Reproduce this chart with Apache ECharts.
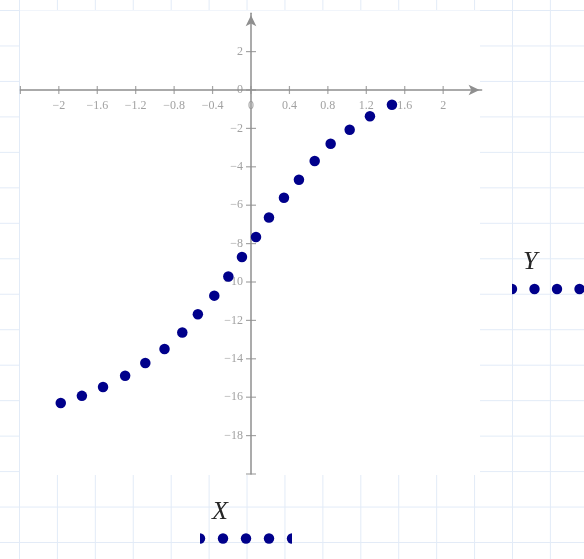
<!DOCTYPE html>
<html>
<head>
<meta charset="utf-8">
<script src="https://cdn.jsdelivr.net/npm/echarts@6/dist/echarts.min.js"></script>
<style>
  html, body { margin: 0; padding: 0; }
  body {
    width: 584px; height: 559px; overflow: hidden;
    background-color: #ffffff;
    background-image:
      linear-gradient(to right, #e2ebf7 1px, transparent 1px),
      linear-gradient(to bottom, #e2ebf7 1px, transparent 1px);
    background-size: 37.93px 35.47px;
    background-position: 19px 10px;
  }
  #chart { width: 584px; height: 559px; }
</style>
</head>
<body>
<div id="chart"></div>
<script>
// Sample points (x, y) of the plotted curve
const xValues = [-1.98, -1.76, -1.54, -1.31, -1.10, -0.90, -0.715, -0.553, -0.382, -0.236,
                 -0.094, 0.052, 0.187, 0.343, 0.499, 0.663, 0.829, 1.027, 1.238, 1.467];
const yValues = [-16.30, -15.93, -15.47, -14.88, -14.22, -13.49, -12.63, -11.68, -10.71, -9.71,
                 -8.70, -7.66, -6.64, -5.61, -4.67, -3.70, -2.80, -2.07, -1.37, -0.77];

// Axis ranges
const xRange = [-2.4, 2.4];
const yRange = [-20, 4];

// Tick positions along each axis and the labels written beside them
const xTicks = [-2.4, -2, -1.6, -1.2, -0.8, -0.4, 0, 0.4, 0.8, 1.2, 1.6, 2];
const xTickLabels = ['', '\u22122', '\u22121.6', '\u22121.2', '\u22120.8', '\u22120.4', '0', '0.4', '0.8', '1.2', '1.6', '2'];
const yTicks = [2, 0, -2, -4, -6, -8, -10, -12, -14, -16, -18, -20];
const yTickLabels = ['2', '0', '\u22122', '\u22124', '\u22126', '\u22128', '\u221210', '\u221212', '\u221214', '\u221216', '\u221218', ''];

const points = xValues.map((x, i) => [x, yValues[i]]);
const xTickData = xTicks.map((v, i) => ({ value: [v, 0], label: { formatter: xTickLabels[i] } }));
const yTickData = yTicks.map((v, i) => ({ value: [0, v], label: { formatter: yTickLabels[i] } }));

const axisGrey = '#8f8f8f';
const labelGrey = '#8a8a8a';
const serif = '"Liberation Serif", "DejaVu Serif", serif';

// Axes through the origin, drawn as plain lines ending in arrows
function axisDef(range) {
  return {
    type: 'value', min: range[0], max: range[1],
    axisLine: {
      show: true, onZero: true,
      symbol: ['none', 'arrow'], symbolSize: [8, 11], symbolOffset: [0, -2],
      lineStyle: { color: axisGrey, width: 1.5 }
    },
    axisTick: { show: false },
    axisLabel: { show: false },
    splitLine: { show: false }
  };
}

// Dot rows beside the variable names
function dotRow(cx0, cy, n, gap, clipLeft, clipRight) {
  const els = [];
  for (let i = 0; i < n; i++) {
    const cx = cx0 + i * gap;
    let start = 0, end = Math.PI * 2;
    if (i === 0 && clipLeft) { start = -Math.PI / 2; end = Math.PI / 2; }
    if (i === n - 1 && clipRight) { start = Math.PI / 2; end = Math.PI * 1.5; }
    els.push({
      type: 'sector',
      shape: { cx: cx, cy: cy, r0: 0, r: 5.2, startAngle: start, endAngle: end },
      style: { fill: '#00008b' }
    });
  }
  return els;
}

const tickLabelStyle = { show: true, color: labelGrey, fontFamily: serif, fontSize: 12 };

const chart = echarts.init(document.getElementById('chart'), null, { renderer: 'canvas' });
chart.setOption({
  animation: false,
  backgroundColor: 'transparent',
  grid: {
    left: 20.4, top: 13.2, width: 461.2, height: 460.8, show: false,
    containLabel: false, outerBoundsMode: 'none'
  },
  xAxis: axisDef(xRange),
  yAxis: axisDef(yRange),
  graphic: [
    {
      type: 'rect', z: -10, silent: true,
      shape: { x: 20, y: 10.5, width: 460, height: 464.5 },
      style: { fill: '#ffffff' }
    },
    {
      type: 'text', left: 212, top: 499,
      style: { text: 'X', font: 'italic 26px "Liberation Serif", serif', fill: '#262626' }
    },
    {
      type: 'text', left: 523, top: 249,
      style: { text: 'Y', font: 'italic 26px "Liberation Serif", serif', fill: '#262626' }
    },
    ...dotRow(200, 538.5, 5, 23, true, true),
    ...dotRow(512, 289, 4, 22.5, true, false)
  ],
  series: [
    {
      // tick crosses and labels on the horizontal axis
      type: 'scatter', silent: true, clip: false,
      data: xTickData,
      symbol: 'rect', symbolSize: [1.2, 8],
      itemStyle: { color: axisGrey },
      label: Object.assign({ position: 'bottom', distance: 6 }, tickLabelStyle),
      z: 3
    },
    {
      // tick crosses and labels on the vertical axis
      type: 'scatter', silent: true, clip: false,
      data: yTickData,
      symbol: 'rect', symbolSize: [10, 1.2],
      itemStyle: { color: axisGrey },
      label: Object.assign({ position: 'left', distance: 3 }, tickLabelStyle),
      z: 3
    },
    {
      type: 'scatter',
      data: points,
      symbol: 'circle',
      symbolSize: 10.5,
      itemStyle: { color: '#00008b', opacity: 1 },
      z: 5
    }
  ]
});
</script>
</body>
</html>
